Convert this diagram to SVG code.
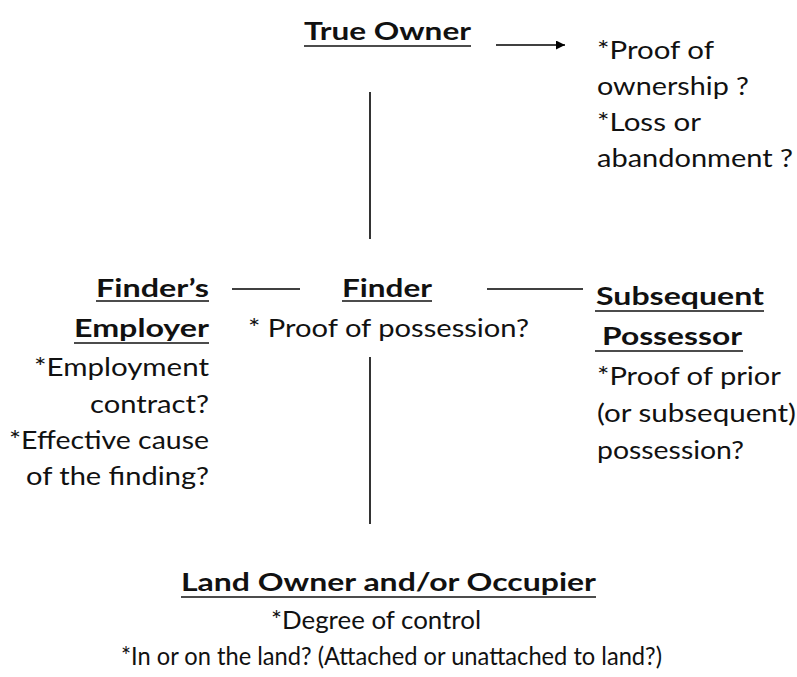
<svg xmlns="http://www.w3.org/2000/svg" width="797" height="677" viewBox="0 0 797 677">
<style>
text{font-family:Lato,"Open Sans","Liberation Sans",sans-serif;font-size:25px;fill:#111}
.b{font-weight:bold}
.u{stroke:#111;stroke-width:1.6}
.c{stroke:#000;stroke-width:1.6;fill:none}
</style>
<defs>
<marker id="ah" viewBox="0 0 10 10" refX="10" refY="5" markerWidth="10" markerHeight="9" markerUnits="userSpaceOnUse" orient="auto">
<path d="M0,0 L10,5 L0,10 z" fill="#000"/>
</marker>
</defs>
<rect width="797" height="677" fill="#fff"/>
<g id="connectors">
<line class="c" x1="496" y1="45" x2="565" y2="45" marker-end="url(#ah)"/>
<line class="c" x1="370" y1="92" x2="370" y2="239"/>
<line class="c" x1="232" y1="289" x2="300" y2="289"/>
<line class="c" x1="487" y1="289" x2="583" y2="289"/>
<line class="c" x1="370" y1="357" x2="370" y2="524"/>
</g>
<g id="true-owner">
<text class="b" x="304" y="40" textLength="167" lengthAdjust="spacingAndGlyphs">True Owner</text>
<line class="u" x1="304" y1="46" x2="471" y2="46"/>
</g>
<g id="true-owner-notes">
<text x="597" y="59" textLength="117" lengthAdjust="spacingAndGlyphs">*Proof of</text>
<text x="597" y="95" textLength="152" lengthAdjust="spacingAndGlyphs">ownership ?</text>
<text x="597" y="131" textLength="104" lengthAdjust="spacingAndGlyphs">*Loss or</text>
<text x="597" y="167" textLength="196" lengthAdjust="spacingAndGlyphs">abandonment ?</text>
</g>
<g id="finders-employer">
<text class="b" x="209" y="297" text-anchor="end" textLength="113" lengthAdjust="spacingAndGlyphs">Finder’s</text>
<line class="u" x1="96" y1="301" x2="209" y2="301"/>
<text class="b" x="209" y="337" text-anchor="end" textLength="135" lengthAdjust="spacingAndGlyphs">Employer</text>
<line class="u" x1="74" y1="343" x2="209" y2="343"/>
<text x="209" y="376" text-anchor="end" textLength="175" lengthAdjust="spacingAndGlyphs">*Employment</text>
<text x="209" y="413" text-anchor="end" textLength="119" lengthAdjust="spacingAndGlyphs">contract?</text>
<text x="209" y="449" text-anchor="end" textLength="200" lengthAdjust="spacingAndGlyphs">*Effective cause</text>
<text x="209" y="485" text-anchor="end" textLength="183" lengthAdjust="spacingAndGlyphs">of the finding?</text>
</g>
<g id="finder">
<text class="b" x="342" y="297" textLength="90" lengthAdjust="spacingAndGlyphs">Finder</text>
<line class="u" x1="342" y1="301" x2="432" y2="301"/>
<text x="248" y="337" textLength="281" lengthAdjust="spacingAndGlyphs">* Proof of possession?</text>
</g>
<g id="subsequent-possessor">
<text class="b" x="596" y="305" textLength="168" lengthAdjust="spacingAndGlyphs">Subsequent</text>
<line class="u" x1="595" y1="311" x2="764" y2="311"/>
<text class="b" x="602" y="345" textLength="140" lengthAdjust="spacingAndGlyphs">Possessor</text>
<line class="u" x1="595" y1="351" x2="743" y2="351"/>
<text x="597" y="385" textLength="184" lengthAdjust="spacingAndGlyphs">*Proof of prior</text>
<text x="597" y="422" textLength="199" lengthAdjust="spacingAndGlyphs">(or subsequent)</text>
<text x="597" y="459" textLength="147" lengthAdjust="spacingAndGlyphs">possession?</text>
</g>
<g id="land-owner">
<text class="b" x="181" y="591" textLength="415" lengthAdjust="spacingAndGlyphs">Land Owner and/or Occupier</text>
<line class="u" x1="181" y1="597" x2="596" y2="597"/>
<text x="271" y="629" textLength="210" lengthAdjust="spacingAndGlyphs">*Degree of control</text>
<text x="121" y="665" textLength="541" lengthAdjust="spacingAndGlyphs">*In or on the land? (Attached or unattached to land?)</text>
</g>
</svg>
